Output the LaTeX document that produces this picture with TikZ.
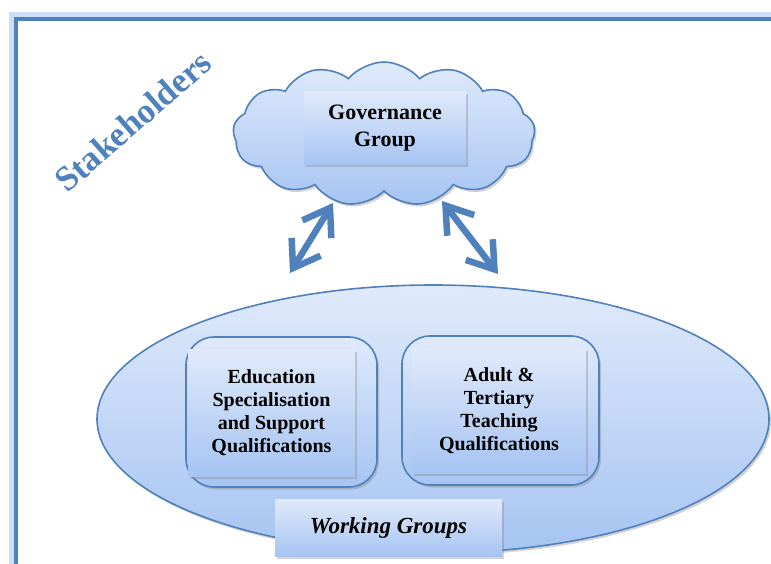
\documentclass[tikz,border=0pt]{standalone}
\usepackage{fontspec}
\setmainfont{Liberation Serif}
\usetikzlibrary{shapes.geometric,shapes.symbols,shadows,arrows.meta}

\definecolor{frameblue}{RGB}{79,129,189}
\definecolor{glowblue}{RGB}{205,221,245}
\definecolor{topblue}{RGB}{224,234,251}
\definecolor{botblue}{RGB}{166,196,242}

\tikzset{
  <->/.style={draw=frameblue,line width=6.5pt,line cap=round,
    {Straight Barb[length=25pt,width=34pt]}-{Straight Barb[length=25pt,width=34pt]}},
  grad/.style={top color=topblue,bottom color=botblue},
  shadowed/.style={drop shadow={shadow xshift=2pt,shadow yshift=-2.5pt,opacity=.35}},
  panel/.style={grad,shadowed,draw=frameblue,line width=1.6pt,rounded corners=28pt},
  card/.style={grad,shadowed,rectangle,inner sep=0pt,
    font=\fontsize{20}{23}\selectfont\bfseries}
}
\tikzstyle{every node}=[align=center,inner sep=0pt]

\begin{document}
\begin{tikzpicture}[x=1pt,y=-1pt]
    \useasboundingbox (0,0) rectangle (771,564);
    \clip (0,0) rectangle (771,564);
    % frame round the page
    \draw[glowblue,line width=8pt] (13,16) rectangle (830,630);
    \draw[frameblue,line width=4.5pt] (16,19) rectangle (830,630);
    % title
    \node[rotate=41,text=frameblue,font=\fontsize{35}{40}\selectfont\bfseries] (T) at (133,121) {Stakeholders};
    % governance
    \node[cloud,cloud puffs=13,cloud puff arc=100,aspect=2.1,grad,shadowed,draw=frameblue,line width=1.6pt,
      minimum width=302pt,minimum height=144pt] (C) at (384,134) {};
    \node[card,minimum width=162pt,minimum height=73pt,font=\fontsize{22}{27}\selectfont\bfseries] (G) at (385,128.5) {Governance\\Group};
    % working groups
    \node[ellipse,grad,shadowed,draw=frameblue,line width=1.6pt,minimum width=672pt,minimum height=268pt] (E) at (433,419) {};
    \node[panel,minimum width=191pt,minimum height=150pt] (P1) at (281.5,412) {};
    \node[card,minimum width=167pt,minimum height=127pt] (A) at (271.5,412.5) {Education\\Specialisation\\and Support\\Qualifications};
    \node[panel,minimum width=197pt,minimum height=149pt] (P2) at (500.5,410.5) {};
    \node[card,minimum width=174pt,minimum height=125pt] (B) at (499,410.5) {Adult \&\\Tertiary\\Teaching\\Qualifications};
    \node[card,minimum width=227pt,minimum height=57pt,font=\fontsize{23}{26}\selectfont\bfseries\itshape] (W) at (388.5,527.5) {Working Groups};
    % links
    \coordinate (l1) at (290,273);
    \coordinate (l2) at (333,203);
    \coordinate (r1) at (442,201);
    \coordinate (r2) at (498,274);
    \draw[<->] (l1) -- (l2);
    \draw[<->] (r1) -- (r2);
\end{tikzpicture}
\end{document}
